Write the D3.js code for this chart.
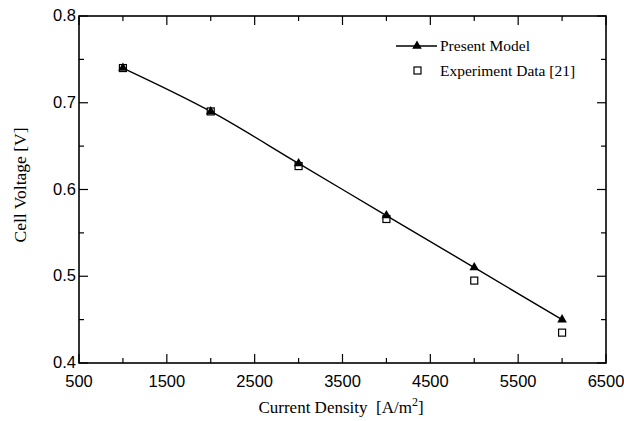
<!DOCTYPE html>
<html>
<head>
<meta charset="utf-8">
<script src="https://cdn.jsdelivr.net/npm/d3@7"></script>
<style>
  body { margin: 0; background: #fff; }
  svg { display: block; }
  .sans { font-family: 'Liberation Sans', Arial, sans-serif; }
  .serif { font-family: 'Liberation Serif', 'Times New Roman', serif; }
</style>
</head>
<body>
<div id="vis"></div>
<script>
// data
var currentDensity = [1000, 2000, 3000, 4000, 5000, 6000];
var modelVoltage = [0.74, 0.69, 0.63, 0.57, 0.51, 0.45];
var experimentVoltage = [0.74, 0.69, 0.627, 0.566, 0.495, 0.435];
var xTicks = [500, 1500, 2500, 3500, 4500, 5500, 6500];
var yTicks = [0.4, 0.5, 0.6, 0.7, 0.8];

var width = 624, height = 421;
var margin = { top: 16, right: 18, bottom: 58, left: 79 };

var svg = d3.select('#vis').append('svg')
  .attr('width', width)
  .attr('height', height);

var x = d3.scaleLinear().domain([500, 6500]).range([margin.left, width - margin.right]);
var y = d3.scaleLinear().domain([0.4, 0.8]).range([height - margin.bottom, margin.top]);

var x0 = x.range()[0], x1 = x.range()[1];
var y0 = y.range()[0], y1 = y.range()[1];

// frame
svg.append('rect')
  .attr('x', x0).attr('y', y1)
  .attr('width', x1 - x0).attr('height', y0 - y1)
  .attr('fill', 'none').attr('stroke', '#000').attr('stroke-width', 1.6);

// ticks every 500 on x, 0.05 on y, all pointing inward
var xAll = d3.range(500, 6501, 500);
var yAll = d3.range(0, 9).map(function(i) { return 0.4 + i * 0.05; });

xAll.forEach(function(v) {
  var major = xTicks.indexOf(v) >= 0;
  var len = major ? 9 : 5;
  svg.append('line').attr('x1', x(v)).attr('x2', x(v)).attr('y1', y0).attr('y2', y0 - len)
    .attr('stroke', '#000').attr('stroke-width', 1.2);
  svg.append('line').attr('x1', x(v)).attr('x2', x(v)).attr('y1', y1).attr('y2', y1 + len)
    .attr('stroke', '#000').attr('stroke-width', 1.2);
});

yAll.forEach(function(v) {
  var major = Math.abs(Math.round(v * 10) - v * 10) < 1e-6;
  var len = major ? 9 : 5;
  svg.append('line').attr('x1', x0).attr('x2', x0 + len).attr('y1', y(v)).attr('y2', y(v))
    .attr('stroke', '#000').attr('stroke-width', 1.2);
  svg.append('line').attr('x1', x1).attr('x2', x1 - len).attr('y1', y(v)).attr('y2', y(v))
    .attr('stroke', '#000').attr('stroke-width', 1.2);
});

// tick labels
svg.selectAll('.xlab').data(xTicks).enter().append('text')
  .attr('class', 'xlab sans')
  .attr('x', function(d) { return x(d); })
  .attr('y', y0 + 24)
  .attr('text-anchor', 'middle')
  .style('font-size', '16.5px')
  .text(function(d) { return d; });

svg.selectAll('.ylab').data(yTicks).enter().append('text')
  .attr('class', 'ylab sans')
  .attr('x', x0 - 3)
  .attr('y', function(d) { return y(d) + 5; })
  .attr('text-anchor', 'end')
  .style('font-size', '16.5px')
  .text(function(d) { return d3.format('.1f')(d); });

// axis titles
var xt = svg.append('text')
  .attr('class', 'serif')
  .attr('x', 341)
  .attr('y', 413)
  .attr('text-anchor', 'middle')
  .style('font-size', '17px')
  .style('white-space', 'pre');
xt.append('tspan').text('Current Density  [A/m');
xt.append('tspan').attr('dy', -7).style('font-size', '12px').text('2');
xt.append('tspan').attr('dy', 7).text(']');

svg.append('text')
  .attr('class', 'serif')
  .attr('transform', 'translate(26,185) rotate(-90)')
  .attr('text-anchor', 'middle')
  .style('font-size', '17.5px')
  .text('Cell Voltage [V]');

// model curve
var model = currentDensity.map(function(d, i) { return [d, modelVoltage[i]]; });
var experiment = currentDensity.map(function(d, i) { return [d, experimentVoltage[i]]; });

var line = d3.line()
  .x(function(d) { return x(d[0]); })
  .y(function(d) { return y(d[1]); })
  .curve(d3.curveMonotoneX);

svg.append('path')
  .datum(model)
  .attr('d', line)
  .attr('fill', 'none')
  .attr('stroke', '#000')
  .attr('stroke-width', 1.4);

// experiment squares
svg.selectAll('.exp').data(experiment).enter().append('rect')
  .attr('class', 'exp')
  .attr('x', function(d) { return x(d[0]) - 3.5; })
  .attr('y', function(d) { return y(d[1]) - 3.5; })
  .attr('width', 7).attr('height', 7)
  .attr('fill', '#fff').attr('stroke', '#000').attr('stroke-width', 1.2);

// model triangles
var tri = d3.symbol().type(d3.symbolTriangle).size(40);
svg.selectAll('.mod').data(model).enter().append('path')
  .attr('class', 'mod')
  .attr('transform', function(d) { return 'translate(' + x(d[0]) + ',' + y(d[1]) + ')'; })
  .attr('d', tri)
  .attr('fill', '#000');

// legend
var lg = svg.append('g');
lg.append('line').attr('x1', 396).attr('x2', 437).attr('y1', 46).attr('y2', 46)
  .attr('stroke', '#000').attr('stroke-width', 1.4);
lg.append('path').attr('transform', 'translate(417,46)').attr('d', tri).attr('fill', '#000');
lg.append('text').attr('class', 'serif').attr('x', 440).attr('y', 51)
  .style('font-size', '15.5px')
  .text('Present Model');
lg.append('rect').attr('x', 414).attr('y', 67).attr('width', 7).attr('height', 7)
  .attr('fill', '#fff').attr('stroke', '#000').attr('stroke-width', 1.2);
lg.append('text').attr('class', 'serif').attr('x', 440).attr('y', 76)
  .style('font-size', '15.5px')
  .text('Experiment Data [21]');
</script>
</body>
</html>
